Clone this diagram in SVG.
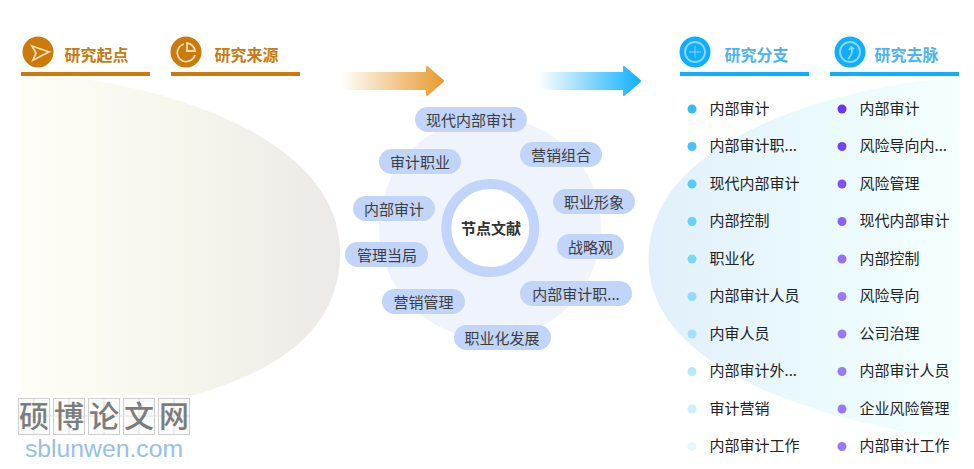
<svg xmlns="http://www.w3.org/2000/svg" width="974" height="469" viewBox="0 0 974 469">
<style>
text{font-family:"Noto Sans CJK SC","Liberation Sans",sans-serif}
.pill{fill:#c1d5fb}
.pt{font-size:15px;fill:#3c3c3c;text-anchor:middle}
.it{font-size:15px;fill:#222}
.h1{font-size:16px;font-weight:700;fill:#c97b10}
.h2{font-size:16px;font-weight:700;fill:#4db2f7}
.ic{fill:none;stroke:#f6dcb4;stroke-width:1.800}
.ib{fill:none;stroke:#8fd6fc;stroke-width:1.800}
.wm{font-size:30px;font-weight:500;fill:#7d7d7d;text-anchor:middle}
.wb{fill:#fafafa;fill-opacity:.7;stroke:#cfcfcf}
.wg{stroke:#e0e0e0;stroke-width:1}
</style>
<defs>
<linearGradient id="lf" gradientUnits="userSpaceOnUse" x1="21" x2="340" y1="0" y2="0"><stop offset="0" stop-color="#fefef6"/><stop offset=".5" stop-color="#f6f6ed"/><stop offset="1" stop-color="#ece9e6"/></linearGradient>
<linearGradient id="rf" gradientUnits="userSpaceOnUse" x1="648" x2="959" y1="0" y2="0"><stop offset="0" stop-color="#e1effa"/><stop offset=".5" stop-color="#e9f9fd"/><stop offset="1" stop-color="#f4ffff"/></linearGradient>
<linearGradient id="a1" x1="0" x2="1" y1="0" y2="0"><stop offset="0" stop-color="#e79a2e" stop-opacity="0"/><stop offset="1" stop-color="#e79a2e"/></linearGradient>
<linearGradient id="a2" x1="0" x2="1" y1="0" y2="0"><stop offset="0" stop-color="#0fb0ff" stop-opacity="0"/><stop offset="1" stop-color="#0fb0ff"/></linearGradient>
</defs>
<g id="backgrounds">
<path d="M21 76H60C130 82 340 125 340 253C340 345 250 378 195 395L60 412H21Z" fill="url(#lf)"/>
<rect x="21" y="395" width="180" height="20" fill="#fff" fill-opacity=".55"/>
<path d="M959 77C860 84 648.500 130 648.500 259C648.500 380 850 425 959 441Z" fill="url(#rf)"/>
</g>
<g id="head-origin">
<circle cx="38" cy="52" r="15.500" fill="#cb7b0c"/>
<path class="ic" d="M32 46L49 52L33 60L36 53Z"/>
<text class="h1" x="64.500" y="61">研究起点</text>
<rect x="21" y="72" width="129" height="4" fill="#cb7b0c"/>
</g>
<g id="head-source">
<circle cx="186" cy="52" r="15.500" fill="#cb7b0c"/>
<path class="ic" d="M184 44A9 9 0 1 0 195 55"/><path class="ic" d="M187 43A9 9 0 0 1 195 51H187Z"/>
<text class="h1" x="214.500" y="61">研究来源</text>
<rect x="171" y="72" width="129" height="4" fill="#cb7b0c"/>
</g>
<g id="head-branch">
<circle cx="695" cy="52" r="15.500" fill="#0faeff"/>
<circle class="ib" cx="695" cy="52" r="10"/><path class="ib" d="M689 52H701M695 46V58" style="stroke-width:1"/>
<text class="h2" x="724.500" y="61">研究分支</text>
<rect x="680" y="72" width="129" height="4" fill="#0faeff"/>
</g>
<g id="head-trend">
<circle cx="850" cy="52" r="15.500" fill="#0faeff"/>
<circle class="ib" cx="850" cy="52" r="10"/><path class="ib" d="M848 59C852 55 853 51 851 47M849 50L851 47L854 49"/>
<text class="h2" x="874.500" y="61">研究去脉</text>
<rect x="830" y="72" width="129" height="4" fill="#0faeff"/>
</g>
<g id="connectors">
<path d="M341 72H426V67Q426 65 428 66.500L443 79.500Q445 81 443 82.500L428 95.500Q426 97 426 95V90H341Z" fill="url(#a1)"/>
<path d="M538 72H623V67Q623 65 625 66.500L640 79.500Q642 81 640 82.500L625 95.500Q623 97 623 95V90H538Z" fill="url(#a2)"/>
</g>
<g id="center">
<circle cx="490" cy="228" r="111" fill="#eff3fc"/>
<circle cx="490.300" cy="228" r="44" fill="#fff" stroke="#c1d5fb" stroke-width="10"/>
<text x="491" y="233.500" font-size="15" font-weight="700" fill="#333" text-anchor="middle">节点文献</text>
</g>
<g id="n1"><rect class="pill" x="415" y="107" width="112" height="25" rx="12.500"/><text class="pt" x="471" y="125.500">现代内部审计</text></g>
<g id="n2"><rect class="pill" x="520" y="142" width="82" height="25" rx="12.500"/><text class="pt" x="561" y="160.500">营销组合</text></g>
<g id="n3"><rect class="pill" x="379" y="149" width="82" height="25" rx="12.500"/><text class="pt" x="420" y="167.500">审计职业</text></g>
<g id="n4"><rect class="pill" x="353" y="196" width="82" height="25" rx="12.500"/><text class="pt" x="394" y="214.500">内部审计</text></g>
<g id="n5"><rect class="pill" x="553" y="189" width="82" height="25" rx="12.500"/><text class="pt" x="594" y="207.500">职业形象</text></g>
<g id="n6"><rect class="pill" x="557" y="234" width="67" height="25" rx="12.500"/><text class="pt" x="590.500" y="252.500">战略观</text></g>
<g id="n7"><rect class="pill" x="345" y="242" width="83" height="25" rx="12.500"/><text class="pt" x="387" y="260.500">管理当局</text></g>
<g id="n8"><rect class="pill" x="382" y="289" width="83" height="25" rx="12.500"/><text class="pt" x="423.500" y="307.500">营销管理</text></g>
<g id="n9"><rect class="pill" x="520" y="281" width="112" height="25" rx="12.500"/><text class="pt" x="576" y="299.500">内部审计职...</text></g>
<g id="n10"><rect class="pill" x="454" y="325" width="97" height="25" rx="12.500"/><text class="pt" x="502" y="343.500">职业化发展</text></g>
<g id="branch-list">
<circle cx="692" cy="109" r="4.500" fill="#33bcfc"/><text class="it" x="709.500" y="113.500">内部审计</text>
<circle cx="692" cy="146.500" r="4.500" fill="#45c3fc"/><text class="it" x="709.500" y="151">内部审计职...</text>
<circle cx="692" cy="184" r="4.500" fill="#57cafc"/><text class="it" x="709.500" y="188.500">现代内部审计</text>
<circle cx="692" cy="221.500" r="4.500" fill="#69d0fc"/><text class="it" x="709.500" y="226">内部控制</text>
<circle cx="692" cy="259" r="4.500" fill="#7bd6fd"/><text class="it" x="709.500" y="263.500">职业化</text>
<circle cx="692" cy="296.500" r="4.500" fill="#8ddcfd"/><text class="it" x="709.500" y="301">内部审计人员</text>
<circle cx="692" cy="334" r="4.500" fill="#a0e2fd"/><text class="it" x="709.500" y="338.500">内审人员</text>
<circle cx="692" cy="371.500" r="4.500" fill="#b7e9fd"/><text class="it" x="709.500" y="376">内部审计外...</text>
<circle cx="692" cy="409" r="4.500" fill="#cdf0fe"/><text class="it" x="709.500" y="413.500">审计营销</text>
<circle cx="692" cy="446.500" r="4.500" fill="#e6f8fe"/><text class="it" x="709.500" y="451">内部审计工作</text>
</g>
<g id="trend-list">
<circle cx="842" cy="109" r="4.500" fill="#6a36f8"/><text class="it" x="859.500" y="113.500">内部审计</text>
<circle cx="842" cy="146.500" r="4.500" fill="#7444f9"/><text class="it" x="859.500" y="151">风险导向内...</text>
<circle cx="842" cy="184" r="4.500" fill="#7e52fa"/><text class="it" x="859.500" y="188.500">风险管理</text>
<circle cx="842" cy="221.500" r="4.500" fill="#8a62fb"/><text class="it" x="859.500" y="226">现代内部审计</text>
<circle cx="842" cy="259" r="4.500" fill="#9470fb"/><text class="it" x="859.500" y="263.500">内部控制</text>
<circle cx="842" cy="296.500" r="4.500" fill="#9a78fc"/><text class="it" x="859.500" y="301">风险导向</text>
<circle cx="842" cy="334" r="4.500" fill="#9a78fc"/><text class="it" x="859.500" y="338.500">公司治理</text>
<circle cx="842" cy="371.500" r="4.500" fill="#9a78fc"/><text class="it" x="859.500" y="376">内部审计人员</text>
<circle cx="842" cy="409" r="4.500" fill="#9a78fc"/><text class="it" x="859.500" y="413.500">企业风险管理</text>
<circle cx="842" cy="446.500" r="4.500" fill="#9a78fc"/><text class="it" x="859.500" y="451">内部审计工作</text>
</g>
<g id="watermark">
<rect class="wb" x="18.500" y="398.500" width="31" height="36"/><rect class="wb" x="53.500" y="398.500" width="31" height="36"/><rect class="wb" x="88.500" y="398.500" width="31" height="36"/><rect class="wb" x="123.500" y="398.500" width="31" height="36"/><rect class="wb" x="158.500" y="398.500" width="31" height="36"/>
<path class="wg" d="M34 399V434M69 399V434M104 399V434M139 399V434M174 399V434M19 416H189"/>
<text class="wm" x="34" y="427">硕</text><text class="wm" x="69" y="427">博</text><text class="wm" x="104" y="427">论</text><text class="wm" x="139" y="427">文</text><text class="wm" x="174" y="427">网</text>
<text x="25" y="457" font-size="23" fill="#97c0ea" style="font-family:'Liberation Sans',sans-serif" textLength="158" lengthAdjust="spacingAndGlyphs">sblunwen.com</text>
</g>
</svg>
